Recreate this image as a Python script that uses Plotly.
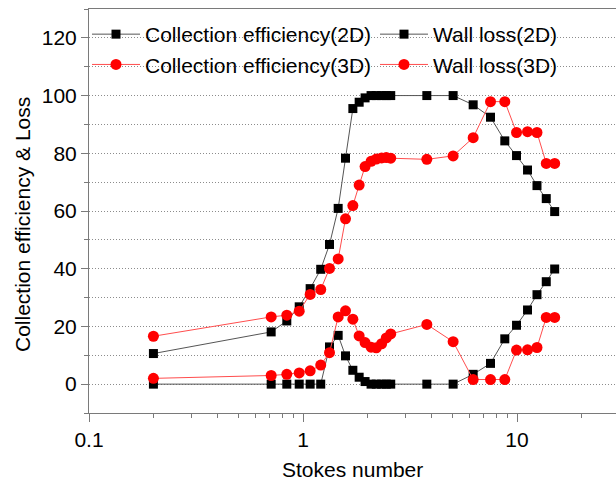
import numpy as np
import plotly.graph_objects as go

# ---------------- data ----------------
stokes = [0.2, 0.71, 0.84, 0.96, 1.08, 1.21, 1.33, 1.46, 1.58, 1.71, 1.83, 1.95,
          2.08, 2.2, 2.33, 2.45, 2.57, 3.79, 5.03, 6.24, 7.52, 8.77, 9.95, 11.2,
          12.4, 13.7, 15.0]

ce_2d = [10.6, 18.1, 21.9, 26.8, 33.1, 39.8, 48.4, 60.9, 78.3, 95.5, 97.7, 99.2,
         100, 100, 100, 100, 100, 100, 100, 96.8, 92.5, 84.3, 79.2, 74.2,
         68.8, 64.3, 59.8]
wl_2d = [0, 0, 0, 0, 0, 0, 12.9, 16.9, 9.8, 4.8, 2.4, 0.9,
         0, 0, 0, 0, 0, 0, 0, 3.4, 7.2, 15.7, 20.4, 25.7,
         31.0, 35.5, 39.9]
ce_3d = [16.6, 23.3, 23.9, 25.3, 31.1, 32.8, 40.1, 43.4, 57.3, 61.9, 69.0, 75.4,
         77.2, 78.0, 78.4, 78.5, 78.3, 77.9, 79.1, 85.4, 97.9, 97.9, 87.2, 87.5,
         87.2, 76.5, 76.5]
wl_3d = [2.0, 3.0, 3.4, 3.9, 4.6, 6.6, 10.9, 23.3, 25.4, 22.5, 16.7, 14.4,
         12.8, 12.6, 14.0, 16.0, 17.4, 20.7, 14.7, 1.6, 1.6, 1.6, 11.8, 11.9,
         12.7, 23.1, 23.1]

names = ["Collection efficiency(2D)", "Wall loss(2D)",
         "Collection efficiency(3D)", "Wall loss(3D)"]
x_tick_vals = [0.1, 1, 10]
x_tick_text = ["0.1", "1", "10"]
x_minor_vals = [0.2, 0.3, 0.4, 0.5, 0.6, 0.7, 0.8, 0.9,
                2, 3, 4, 5, 6, 7, 8, 9, 20]
y_tick_vals = [0, 20, 40, 60, 80, 100, 120]
x_title = "Stokes number"
y_title = "Collection efficiency & Loss"

# ---------------- styling ----------------
FONT = "Liberation Sans, Arial, sans-serif"
AXIS_COLOR = "#7a7a7a"
LINE_2D = "#555555"
LINE_3D = "#ff4d4d"

W, H = 616, 484
ML, MR, MT, MB = 89, 0, 9, 71
plot_w = W - ML - MR
decade_px = 214.0
x_max_log = -1 + plot_w / decade_px

fig = go.Figure()

def sq_trace(y, name, legend):
    return go.Scatter(
        x=stokes, y=y, name=name, legend=legend, mode="lines+markers",
        line=dict(color=LINE_2D, width=1),
        marker=dict(symbol="square", size=9, color="black", line=dict(width=0)),
    )

def ci_trace(y, name, legend):
    return go.Scatter(
        x=stokes, y=y, name=name, legend=legend, mode="lines+markers",
        line=dict(color=LINE_3D, width=1),
        marker=dict(symbol="circle", size=11, color="#ff0000", line=dict(width=0)),
    )

fig.add_trace(sq_trace(ce_2d, names[0], "legend"))
fig.add_trace(sq_trace(wl_2d, names[1], "legend2"))
fig.add_trace(ci_trace(ce_3d, names[2], "legend"))
fig.add_trace(ci_trace(wl_3d, names[3], "legend2"))

leg_common = dict(
    orientation="v", xanchor="left", yanchor="top",
    bgcolor="rgba(0,0,0,0)", borderwidth=0,
    font=dict(family=FONT, size=21, color="black"),
    itemwidth=48, tracegroupgap=0,
)

fig.update_layout(
    width=W, height=H,
    margin=dict(l=ML, r=MR, t=MT, b=MB, pad=0),
    paper_bgcolor="white", plot_bgcolor="white",
    font=dict(family=FONT, size=20, color="black"),
    showlegend=True,
    legend=dict(x=(87 - ML) / plot_w, y=1 - (14 - MT) / (H - MT - MB), **leg_common),
    legend2=dict(x=(375 - ML) / plot_w, y=1 - (14 - MT) / (H - MT - MB), **leg_common),
)

fig.update_xaxes(
    type="log", range=[-1, x_max_log],
    showline=True, linecolor=AXIS_COLOR, linewidth=1, mirror=True,
    ticks="outside", ticklen=8, tickwidth=1, tickcolor=AXIS_COLOR,
    tickvals=x_tick_vals, ticktext=x_tick_text,
    tickfont=dict(family=FONT, size=21, color="black"),
    minor=dict(tickvals=x_minor_vals, ticks="outside", ticklen=4,
               tickcolor=AXIS_COLOR, tickwidth=1, showgrid=False),
    showgrid=False, zeroline=False,
)

fig.update_yaxes(
    range=[-10, 130],
    showline=True, linecolor=AXIS_COLOR, linewidth=1, mirror=False,
    ticks="outside", ticklen=7, tickwidth=1, tickcolor=AXIS_COLOR,
    tickmode="array", tickvals=y_tick_vals,
    tickfont=dict(family=FONT, size=21, color="black"),
    minor=dict(tick0=0, dtick=10, ticks="outside", ticklen=4,
               tickcolor=AXIS_COLOR, tickwidth=1, showgrid=True,
               gridcolor="#8c8c8c", griddash="1px,2px", gridwidth=1),
    showgrid=False, zeroline=False,
)

# axis titles as annotations for exact placement
fig.add_annotation(
    text=x_title, xref="paper", yref="paper",
    x=0.5, y=-(470 - (H - MB)) / (H - MT - MB),
    xanchor="center", yanchor="middle", showarrow=False,
    font=dict(family=FONT, size=21, color="black"),
)
fig.add_annotation(
    text=y_title, xref="paper", yref="paper",
    x=(22 - ML) / plot_w, y=((H - MB) - 225) / (H - MT - MB),
    xanchor="center", yanchor="middle", textangle=-90, showarrow=False,
    font=dict(family=FONT, size=21, color="black"),
)

fig.write_html("out.html")
